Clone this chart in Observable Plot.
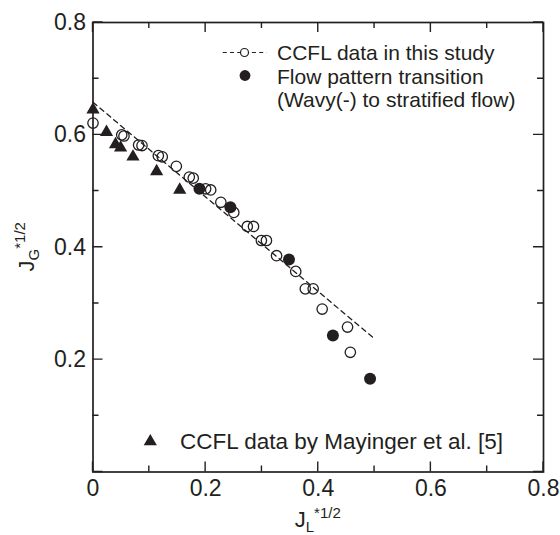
<!DOCTYPE html>
<html>
<head>
<meta charset="utf-8">
<script src="https://cdn.jsdelivr.net/npm/d3@7"></script>
<script src="https://cdn.jsdelivr.net/npm/@observablehq/plot@0.6"></script>
<style>
  html, body { margin: 0; padding: 0; background: #fff; }
  #chart svg { display: block; }
</style>
</head>
<body>
<div id="chart"></div>
<script>
// ---- Data ----
const xTicks = [0, 0.2, 0.4, 0.6, 0.8];
const yTicks = [0.2, 0.4, 0.6, 0.8];
const majorTicks = [0, 0.2, 0.4, 0.6, 0.8];
const minorTicks = [0.1, 0.3, 0.5, 0.7];

// CCFL data in this study (open circles)
const studyX = [0.000, 0.051, 0.055, 0.081, 0.087, 0.116, 0.123, 0.148, 0.171, 0.178, 0.200, 0.209, 0.227, 0.250, 0.274, 0.285, 0.299, 0.308, 0.326, 0.360, 0.377, 0.391, 0.407, 0.452, 0.457];
const studyY = [0.621, 0.600, 0.598, 0.582, 0.581, 0.563, 0.561, 0.544, 0.525, 0.523, 0.504, 0.502, 0.480, 0.462, 0.437, 0.437, 0.412, 0.412, 0.385, 0.357, 0.326, 0.326, 0.290, 0.258, 0.213];

// Flow pattern transition (filled circles)
const transX = [0.189, 0.244, 0.348, 0.426, 0.492];
const transY = [0.504, 0.471, 0.378, 0.243, 0.166];

// CCFL data by Mayinger et al. [5] (filled triangles)
const mayX = [0.000, 0.024, 0.040, 0.049, 0.071, 0.113, 0.154];
const mayY = [0.645, 0.605, 0.583, 0.577, 0.561, 0.535, 0.502];

// Dashed correlation line for this study
const fitX = [0.0, 0.5];
const fitY = [0.658, 0.237];

const legendLabels = [
  "CCFL data in this study",
  "Flow pattern transition",
  "(Wavy(-) to stratified flow)",
  "CCFL data by Mayinger et al. [5]"
];

// ---- Build tables ----
const study = studyX.map((x, i) => ({x, y: studyY[i]}));
const trans = transX.map((x, i) => ({x, y: transY[i]}));
const may = mayX.map((x, i) => ({x, y: mayY[i]}));
const fit = fitX.map((x, i) => ({x, y: fitY[i]}));

// ---- Layout ----
const W = 560, H = 535;
const mL = 92.5, mR = 17, mT = 22, mB = 63.5;
const xDom = [0, 0.8], yDom = [0, 0.8];
const ink = "#231f20";
const font = "'Liberation Sans', Arial, Helvetica, sans-serif";
const majLen = 10, minLen = 6;

const plot = Plot.plot({
  width: W, height: H,
  marginLeft: mL, marginRight: mR, marginTop: mT, marginBottom: mB,
  x: {domain: xDom, axis: null},
  y: {domain: yDom, axis: null},
  style: {fontFamily: font, color: ink, background: "#fff", overflow: "visible"},
  marks: [
    Plot.frame({stroke: ink, strokeWidth: 1.7, fill: "none"}),
    Plot.axisX(xTicks, {anchor: "bottom", tickSize: 0, tickPadding: 8, fontSize: 23, label: null,
      tickFormat: d => d === 0 ? "0" : d.toFixed(1), fill: ink}),
    Plot.axisY(yTicks, {anchor: "left", tickSize: 0, tickPadding: 7, fontSize: 23, label: null,
      tickFormat: d => d.toFixed(1), fill: ink}),
    Plot.line(fit, {x: "x", y: "y", stroke: ink, strokeWidth: 1.3, strokeDasharray: "5,4"}),
    Plot.dot(may, {x: "x", y: "y", symbol: "triangle", r: 4.9, fill: ink, stroke: "none"}),
    Plot.dot(study, {x: "x", y: "y", r: 5.2, fill: "none", stroke: ink, strokeWidth: 1.3}),
    Plot.dot(trans, {x: "x", y: "y", r: 6, fill: ink, stroke: "none"})
  ]
});

document.getElementById("chart").appendChild(plot);

const svg = d3.select(plot);
const sx = plot.scale("x"), sy = plot.scale("y");
const X0 = sx.apply(xDom[0]), X1 = sx.apply(xDom[1]);
const Y0 = sy.apply(yDom[0]), Y1 = sy.apply(yDom[1]);

// ---- Inward ticks on all four sides, placed through Plot's scales ----
function tickPath(values, len) {
  let d = "";
  for (const v of values) {
    const px = sx.apply(v), py = sy.apply(v);
    d += `M${px},${Y0}V${Y0 - len}`;
    d += `M${px},${Y1}V${Y1 + len}`;
    d += `M${X0},${py}H${X0 + len}`;
    d += `M${X1},${py}H${X1 - len}`;
  }
  return d;
}
svg.append("path")
  .attr("d", tickPath(majorTicks, majLen) + tickPath(minorTicks, minLen))
  .attr("fill", "none").attr("stroke", ink).attr("stroke-width", 1.4);

// ---- Axis titles with sub/superscripts ----
const cx = (X0 + X1) / 2;
const cy = (Y0 + Y1) / 2;

const xl = svg.append("text")
  .attr("x", cx).attr("y", 527)
  .attr("text-anchor", "middle")
  .attr("font-family", font).attr("font-size", 22).attr("fill", ink);
xl.append("tspan").attr("fill", ink).text("J");
xl.append("tspan").attr("fill", ink).attr("font-size", 15).attr("dy", 5).text("L");
xl.append("tspan").attr("fill", ink).attr("font-size", 15).attr("dy", -14).text("*1/2");

const yl = svg.append("text")
  .attr("transform", `translate(34,${cy}) rotate(-90)`)
  .attr("text-anchor", "middle")
  .attr("font-family", font).attr("font-size", 22).attr("fill", ink);
yl.append("tspan").attr("fill", ink).text("J");
yl.append("tspan").attr("fill", ink).attr("font-size", 15).attr("dy", 5).text("G");
yl.append("tspan").attr("fill", ink).attr("font-size", 15).attr("dy", -14).text("*1/2");

// ---- Legend ----
const lg = svg.append("g")
  .attr("font-family", font).attr("font-size", 21).attr("fill", ink)
  .attr("text-anchor", "start");
lg.append("line").attr("x1", 222.7).attr("x2", 266.7).attr("y1", 52.5).attr("y2", 52.5)
  .attr("stroke", ink).attr("stroke-width", 1.2).attr("stroke-dasharray", "4,3.3");
lg.append("circle").attr("cx", 244.5).attr("cy", 52.5).attr("r", 4)
  .attr("fill", "#fff").attr("stroke", ink).attr("stroke-width", 1.2);
lg.append("text").attr("x", 277).attr("y", 60).text(legendLabels[0]);
lg.append("circle").attr("cx", 245).attr("cy", 75.5).attr("r", 5.4).attr("fill", ink);
lg.append("text").attr("x", 277).attr("y", 83.5).text(legendLabels[1]);
lg.append("text").attr("x", 277).attr("y", 107).text(legendLabels[2]);
lg.append("path").attr("transform", "translate(150.3,441.5)")
  .attr("d", d3.symbol(d3.symbolTriangle, Math.PI * 4.9 * 4.9)()).attr("fill", ink);
lg.append("text").attr("x", 180).attr("y", 449).attr("font-size", 22.5).text(legendLabels[3]);
</script>
</body>
</html>
